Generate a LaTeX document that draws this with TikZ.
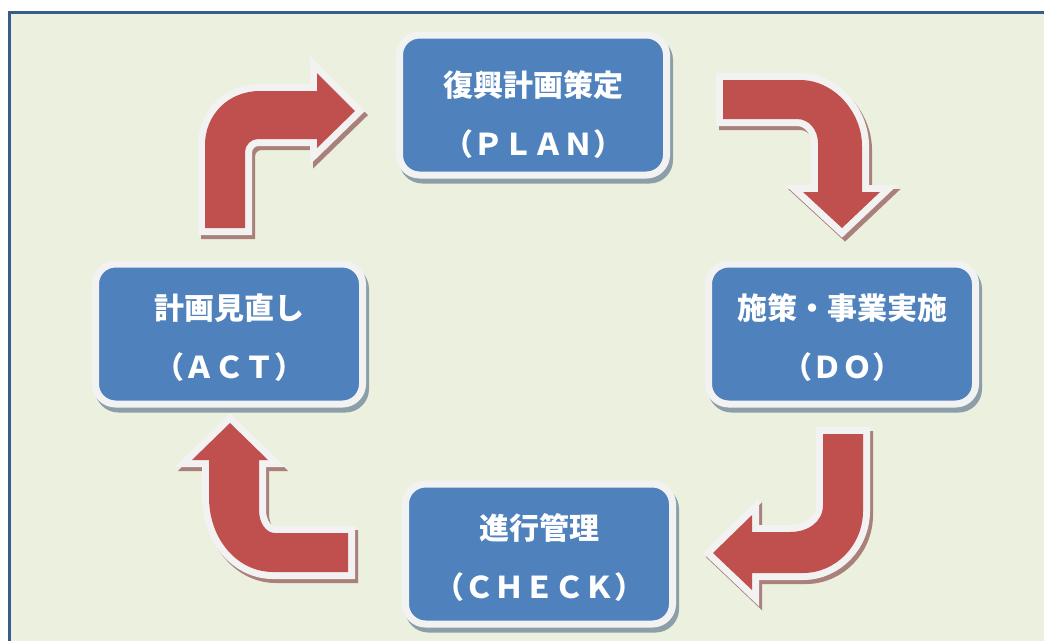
\documentclass[tikz,border=0pt]{standalone}
\usepackage{fontspec}
\newfontfamily\cjk{Noto Sans CJK JP}

\definecolor{pagegreen}{RGB}{235,241,222}
\definecolor{frameblue}{RGB}{56,93,138}
\definecolor{boxblue}{RGB}{79,129,189}
\definecolor{arrowred}{RGB}{192,80,77}
\definecolor{rimwhite}{RGB}{242,242,242}
\definecolor{boxshadow}{RGB}{140,158,168}
\definecolor{arrowshadow}{RGB}{170,128,122}

\begin{document}
\begin{tikzpicture}[x=1pt,y=-1pt]
	\tikzstyle{stage}=[draw=rimwhite, line width=7pt, fill=boxblue, rounded corners=20pt,
		minimum width=267pt, minimum height=140pt,
		preaction={draw=boxshadow, fill=boxshadow, line width=7pt, transform canvas={shift={(3pt,-5pt)}}}]
	\tikzstyle{caption}=[text=white, align=center, font=\cjk\bfseries\fontsize{30pt}{36pt}\selectfont]
	\tikzstyle{turn}=[fill=arrowred,
		preaction={draw=arrowshadow, fill=arrowshadow, line width=14pt, transform canvas={shift={(3pt,-4pt)}}},
		preaction={draw=rimwhite, fill=rimwhite, line width=14pt}]

	\useasboundingbox (0,0) rectangle (1044,641);
	\fill[white] (0,0) rectangle (1044,641);
	\fill[pagegreen] (9,12.5) rectangle (1044,641);
	\draw[frameblue, line width=3pt] (9,641) -- (9,12.5) -- (1044,12.5);

	% the four stages
	\node[stage] (plan) at (533,105) {};
	\node[stage] (do) at (842,334) {};
	\node[stage] (check) at (539,554) {};
	\node[stage] (act) at (229,334) {};

	\node[caption] (plan-text) at ([yshift=-10pt]plan.center) {復興計画策定\\[23pt]（ＰＬＡＮ）};
	\node[caption] (do-text) at ([yshift=-4pt]do.center) {施策・事業実施\\[23pt]（ＤＯ）};
	\node[caption] (check-text) at ([yshift=-4pt]check.center) {進行管理\\[23pt]（ＣＨＥＣＫ）};
	\node[caption] (act-text) at ([yshift=-4pt]act.center) {計画見直し\\[23pt]（ＡＣＴ）};

	% bent arrows between them
	\path[turn] (205,228) -- (205,145) .. controls (205,115) and (228,91) .. (260,91) -- (317,91)
		-- (317,73) -- (355,111) -- (317,148) -- (317,139) -- (258,139)
		.. controls (251,139) and (245,145) .. (245,152) -- (245,228) -- cycle;
	\path[turn] (723,80) -- (800,80) .. controls (834,80) and (862,112) .. (862,146) -- (862,192)
		-- (880,192) -- (842,228) -- (803,192) -- (818,192) -- (818,143)
		.. controls (818,130) and (809,119) .. (797,119) -- (723,119) -- cycle;
	\path[turn] (823,434) -- (863,434) -- (863,511) .. controls (863,545) and (836,573) .. (803,573)
		-- (752,573) -- (752,590) -- (713,553) -- (752,515) -- (752,532) -- (790,532)
		.. controls (808,532) and (823,522) .. (823,505) -- cycle;
	\path[turn] (348,533) -- (348,572) -- (273,572) .. controls (238,572) and (209,540) .. (209,497)
		-- (209,460) -- (192,460) -- (230,423) -- (268,460) -- (259,460) -- (259,510)
		.. controls (259,523) and (266,533) .. (275,533) -- cycle;
\end{tikzpicture}
\end{document}
